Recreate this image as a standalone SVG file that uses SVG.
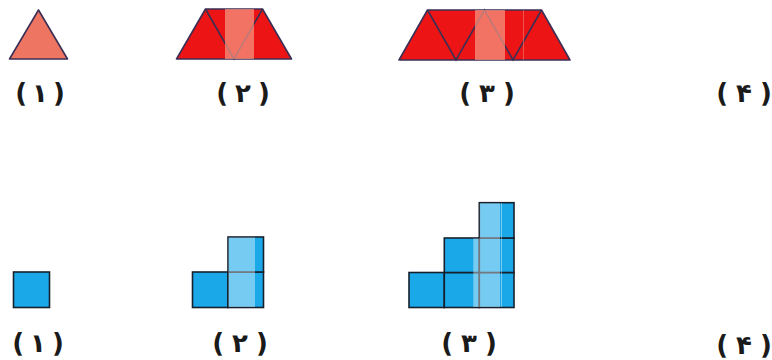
<svg xmlns="http://www.w3.org/2000/svg" width="772" height="360" viewBox="0 0 772 360">
<style>
.tri{stroke:#3b2f55;stroke-width:1.6;stroke-linejoin:round}
.red{fill:#EC1414}
.sal{fill:#EE7562}
.ov{fill:#F59A85;opacity:0.7}
.sq{fill:#1AA8E8;stroke:#16202c;stroke-width:1.6}
.sov{fill:#ffffff;opacity:0.4}
.ln{fill:none;stroke:#3b2f55;stroke-width:1.6}
.lbl{font-family:"DejaVu Sans",sans-serif;font-weight:bold;font-size:26px;fill:#1a1a1a;text-anchor:middle}
</style>
<rect width="772" height="360" fill="#ffffff"/>
<g id="tri1">
<polygon class="tri sal" points="38.5,10 67.5,59 9.5,59"/>
</g>
<g id="tri2">
<polygon class="tri red" points="205.5,9 262.5,9 291.5,59 176.5,59"/>
<polyline class="ln" points="205.5,9 234,59 262.5,9"/>
<rect class="ov" x="225" y="9" width="29" height="50"/>
</g>
<g id="tri3">
<polygon class="tri red" points="427.5,10 541.5,10 570,60 399,60"/>
<polyline class="ln" points="427.5,10 456,60 484.5,10 513,60 541.5,10"/>
<rect class="ov" x="475" y="10" width="30" height="50"/>
<line x1="523.5" y1="10" x2="523.5" y2="60" stroke="#F59A85" stroke-width="0.8" opacity="0.6"/>
</g>
<g id="label-top-1"><text class="lbl" x="40" y="102">(<tspan dx="5">۱</tspan><tspan dx="5">)</tspan></text></g>
<g id="label-top-2"><text class="lbl" x="243" y="102">(<tspan dx="7">۲</tspan><tspan dx="7">)</tspan></text></g>
<g id="label-top-3"><text class="lbl" x="487" y="102">(<tspan dx="8">۳</tspan><tspan dx="8">)</tspan></text></g>
<g id="label-top-4"><text class="lbl" x="744" y="102">(<tspan dx="8">۴</tspan><tspan dx="8">)</tspan></text></g>
<g id="sq1">
<rect class="sq" x="13.5" y="272" width="36" height="35.5"/>
</g>
<g id="sq2">
<rect class="sq" x="192.5" y="272" width="35.5" height="35.5"/>
<rect class="sq" x="228" y="272" width="35.5" height="35.5"/>
<rect class="sq" x="228" y="237" width="35.5" height="35"/>
<rect class="sov" x="228.5" y="237.5" width="26.5" height="69.5"/>
</g>
<g id="sq3">
<rect class="sq" x="409" y="272.5" width="35.3" height="35"/>
<rect class="sq" x="444.3" y="272.5" width="35" height="35"/>
<rect class="sq" x="479.3" y="272.5" width="34.7" height="35"/>
<rect class="sq" x="444.3" y="238" width="35" height="34.5"/>
<rect class="sq" x="479.3" y="238" width="34.7" height="34.5"/>
<rect class="sq" x="479.3" y="202.7" width="34.7" height="35.3"/>
<path class="sov" d="M479.8,203.2 H500 V307 H473.3 V238.5 H479.8 Z"/>
<line x1="501.5" y1="203" x2="501.5" y2="307" stroke="#ffffff" stroke-width="0.8" opacity="0.5"/>
</g>
<g id="label-bot-1"><text class="lbl" x="38" y="352">(<tspan dx="6">۱</tspan><tspan dx="6">)</tspan></text></g>
<g id="label-bot-2"><text class="lbl" x="240" y="352">(<tspan dx="8">۲</tspan><tspan dx="8">)</tspan></text></g>
<g id="label-bot-3"><text class="lbl" x="469" y="352">(<tspan dx="8">۳</tspan><tspan dx="8">)</tspan></text></g>
<g id="label-bot-4"><text class="lbl" x="744" y="354">(<tspan dx="8">۴</tspan><tspan dx="8">)</tspan></text></g>
</svg>
